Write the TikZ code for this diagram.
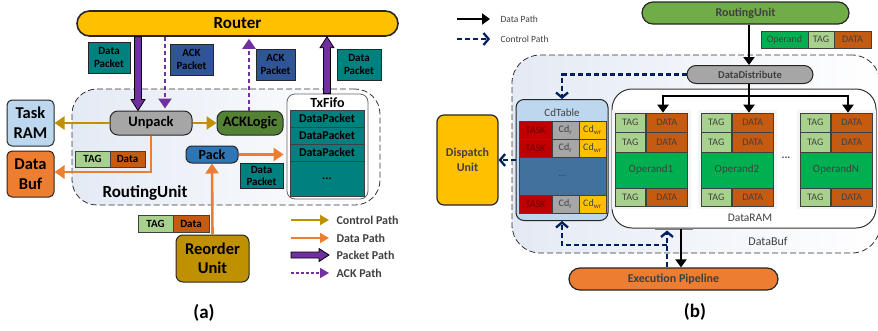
\documentclass[tikz,border=0pt]{standalone}
\usepackage{fontspec}
\setmainfont{Carlito}
\usetikzlibrary{arrows.meta,calc}
\definecolor{cyel}{HTML}{FFC000}
\definecolor{cteal}{HTML}{00807E}
\definecolor{cackb}{HTML}{2F5597}
\definecolor{cpur}{HTML}{7030A0}
\definecolor{cgold}{HTML}{BF9000}
\definecolor{corg}{HTML}{ED7D31}
\definecolor{clblue}{HTML}{BDD7EE}
\definecolor{cgray}{HTML}{A6A6A6}
\definecolor{cgreen}{HTML}{548235}
\definecolor{cpack}{HTML}{2E75B6}
\definecolor{ctag}{HTML}{A9D18E}
\definecolor{cdat}{HTML}{C55A11}
\definecolor{copd}{HTML}{00B050}
\definecolor{crub}{HTML}{70AD47}
\definecolor{cnavy}{HTML}{002060}
\definecolor{cdots}{HTML}{41719C}
\definecolor{ctask}{HTML}{C00000}
\definecolor{ctxt}{HTML}{404040}
\definecolor{cshade}{HTML}{E4EAF4}
\newcommand\fsz[2]{\fontsize{#1}{#2}\selectfont}
\newcommand\fatarrowv[2]{%
  \filldraw[draw=black, fill=cpur, line width=0.8pt, line join=miter]
  let \p1=(#1), \p2=(#2), \n1={sign(\y2-\y1)} in
  (\x1-3.5pt,\y1) -- (\x1-3.5pt,{\y2-\n1*11pt}) -- (\x1-7pt,{\y2-\n1*11pt}) -- (\x1,\y2)
  -- (\x1+7pt,{\y2-\n1*11pt}) -- (\x1+3.5pt,{\y2-\n1*11pt}) -- (\x1+3.5pt,\y1) -- cycle;}
\newcommand\fatarrowh[2]{%
  \filldraw[draw=black, fill=cpur, line width=0.8pt, line join=miter]
  let \p1=(#1), \p2=(#2) in
  (\x1,\y1-3pt) -- (\x2-10pt,\y1-3pt) -- (\x2-10pt,\y1-6.5pt) -- (\x2,\y1)
  -- (\x2-10pt,\y1+6.5pt) -- (\x2-10pt,\y1+3pt) -- (\x1,\y1+3pt) -- cycle;}
\begin{document}
\begin{tikzpicture}[x=1pt,y=-1pt,
  bx/.style={draw=black!85, line width=1pt, inner sep=0pt, align=center},
  cell/.style={draw=black!75, line width=0.6pt, inner sep=0pt, align=center},
  ctrlarr/.style={draw=cgold, line width=2.6pt, -{Triangle[length=10pt,width=13pt]}},
  dataarr/.style={draw=corg, line width=2.6pt, -{Triangle[length=10pt,width=13pt]}},
  ackarr/.style={draw=cpur, line width=2.6pt, dash pattern=on 4pt off 3pt, -{Triangle[length=10pt,width=13pt]}},
  blkarr/.style={draw=black, line width=2pt, -{Triangle[length=8pt,width=11pt]}},
  navyarr/.style={draw=cnavy, line width=2.3pt, dash pattern=on 5pt off 3pt, -{Straight Barb[length=5pt,width=12pt]}},
  dashbox/.style={draw=black!80, line width=0.8pt, dash pattern=on 6pt off 3pt, left color=cshade, right color=white},
  pkt/.style={bx, line width=0.8pt, font=\bfseries\fsz{11}{13.5}},
  lega/.style={anchor=west, text=ctxt, font=\bfseries\fsz{12}{14}},
  legb/.style={anchor=west, text=ctxt, font=\fsz{9.5}{11}},
  btxt/.style={text=ctxt, font=\fsz{10}{12}}
]
\clip (0,0) rectangle (878,330);
% ================= (a) =================
\node[dashbox, rounded corners=25pt, minimum width=308pt, minimum height=116pt] (ru) at (226,147) {};
\node[font=\bfseries\fsz{17}{20}] (rul) at (145,193) {RoutingUnit};

\node[bx, fill=cyel, line width=1.6pt, rounded corners=12.5pt, minimum width=321pt, minimum height=25pt, font=\bfseries\fsz{17}{20}] (router) at (237.5,23.5) {Router};

\node[pkt, fill=cteal, minimum width=42pt, minimum height=31pt] (dp1) at (109,57.5) {Data\\Packet};
\node[pkt, fill=cackb, minimum width=43pt, minimum height=31pt] (ack1) at (191.5,59.5) {ACK\\Packet};
\node[pkt, fill=cackb, minimum width=39pt, minimum height=31pt] (ack2) at (275.5,64.5) {ACK\\Packet};
\node[pkt, fill=cteal, minimum width=44pt, minimum height=31pt] (dp2) at (359,64.5) {Data\\Packet};

\node[bx, rounded corners=5pt, fill=clblue, minimum width=47pt, minimum height=46pt, font=\bfseries\fsz{16.5}{20}] (task) at (30.5,123) {Task\\RAM};
\node[bx, rounded corners=5pt, fill=corg, minimum width=47pt, minimum height=46pt, font=\bfseries\fsz{16.5}{20}] (dbuf) at (30.5,174) {Data\\Buf};

\node[bx, rounded corners=8pt, fill=cgray, minimum width=82pt, minimum height=24pt, font=\bfseries\fsz{14.5}{17}] (unpack) at (151,123) {Unpack};
\node[bx, rounded corners=8pt, fill=cgreen, minimum width=66pt, minimum height=24pt, font=\bfseries\fsz{14.5}{17}] (ackl) at (250,123) {ACKLogic};
\node[bx, rounded corners=6pt, fill=cpack, minimum width=52pt, minimum height=17pt, font=\bfseries\fsz{14}{16}] (pack) at (212,154.5) {Pack};

\node[cell, fill=ctag, minimum width=35pt, minimum height=16pt, font=\bfseries\fsz{11}{13}] (tag1) at (92.5,159) {TAG};
\node[cell, fill=cdat, minimum width=35pt, minimum height=16pt, font=\bfseries\fsz{11}{13}] (dat1) at (127.5,159) {Data};

\node[pkt, fill=cteal, minimum width=43pt, minimum height=25pt, font=\bfseries\fsz{11}{12.5}] (dp3) at (261.5,176) {Data\\Packet};

\node[draw=black!60, line width=0.8pt, fill=white, rounded corners=8pt, minimum width=81pt, minimum height=105pt] (fifo) at (327.5,146.5) {};
\node[font=\bfseries\fsz{14}{16}] (fifol) at (327.5,103) {TxFifo};
\node[cell, fill=cteal, line width=1pt, minimum width=74pt, minimum height=17pt, font=\bfseries\fsz{12}{14}] (f1) at (327,118.5) {DataPacket};
\node[cell, fill=cteal, line width=1pt, minimum width=74pt, minimum height=17pt, font=\bfseries\fsz{12}{14}] (f2) at (327,135.5) {DataPacket};
\node[cell, fill=cteal, line width=1pt, minimum width=74pt, minimum height=17pt, font=\bfseries\fsz{12}{14}] (f3) at (327,152.5) {DataPacket};
\node[cell, fill=cteal, line width=1pt, minimum width=74pt, minimum height=35pt, font=\bfseries\fsz{12}{14}] (f4) at (327,178.5) {...};

\node[bx, rounded corners=7pt, fill=cgold, minimum width=73pt, minimum height=47pt, font=\bfseries\fsz{16.5}{19.5}] (reord) at (212.5,258.5) {Reorder\\Unit};
\node[cell, fill=ctag, minimum width=35pt, minimum height=17pt, font=\bfseries\fsz{11}{13}] (tag2) at (155.5,223.5) {TAG};
\node[cell, fill=cdat, minimum width=36pt, minimum height=17pt, font=\bfseries\fsz{11}{13}] (dat2) at (191,223.5) {Data};

% connectors (a)
\coordinate (xa1) at (138,0);
\coordinate (xa2) at (165,0);
\coordinate (xa3) at (249,0);
\coordinate (xa4) at (327,0);
\fatarrowv{router.south -| xa1}{unpack.north -| xa1}
\draw[ackarr] (router.south -| xa2) -- ($(unpack.north -| xa2)+(0,-2)$);
\draw[ackarr] (ackl.north -| xa3) -- ($(router.south -| xa3)+(0,2)$);
\fatarrowv{fifo.north -| xa4}{router.south -| xa4}
\draw[ctrlarr] (unpack.west) -- (task.east);
\draw[ctrlarr] (unpack.east) -- (ackl.west);
\draw[dataarr] (unpack.south) |- ($(dbuf.east)+(0,-2)$);
\draw[dataarr] (pack.east) -- ($(pack.east -| fifo.west)+(-3,0)$);
\draw[dataarr] (reord.north) -- (pack.south);

% legend (a)
\coordinate (la1s) at (291,220); \coordinate (la1e) at (329,220);
\coordinate (la2s) at (291,238); \coordinate (la2e) at (329,238);
\coordinate (la3s) at (291,255); \coordinate (la3e) at (329,255);
\coordinate (la4s) at (291,273); \coordinate (la4e) at (329,273);
\draw[draw=cgold, line width=1.8pt, -{Triangle[length=9pt,width=10pt]}] (la1s) -- (la1e);
\draw[draw=corg, line width=1.8pt, -{Triangle[length=9pt,width=10pt]}] (la2s) -- (la2e);
\fatarrowh{la3s}{la3e}
\draw[draw=cpur, line width=1.4pt, dash pattern=on 3pt off 2pt, -{Triangle[length=9pt,width=10pt]}] (la4s) -- (la4e);
\node[lega] at (333,220) {Control Path};
\node[lega] at (333,238) {Data Path};
\node[lega] at (333,255) {Packet Path};
\node[lega] at (333,273) {ACK Path};

\node[font=\bfseries\fsz{19}{22}] (capa) at (204,313) {(a)};

% ================= (b) =================
\coordinate (lb1s) at (457,19); \coordinate (lb1e) at (490,19);
\coordinate (lb2s) at (457,39); \coordinate (lb2e) at (490,39);
\draw[blkarr] (lb1s) -- (lb1e);
\draw[navyarr] (lb2s) -- (lb2e);
\node[legb] at (497,19) {Data Path};
\node[legb] at (497,39) {Control Path};

\node[dashbox, rounded corners=28pt, minimum width=368pt, minimum height=198pt] (dbufb) at (696,154) {};
\node[text=ctxt, font=\fsz{12}{14}] (dbufl) at (768,241) {DataBuf};

\node[bx, line width=1.2pt, fill=crub, rounded corners=11pt, minimum width=207pt, minimum height=22pt, font=\bfseries\fsz{12}{14}, text=ctxt] (rub) at (745.5,13) {RoutingUnit};
\node[cell, fill=copd, minimum width=47pt, minimum height=17pt, btxt] (opo) at (784.5,39.5) {Operand};
\node[cell, fill=ctag, minimum width=26pt, minimum height=17pt, btxt] (opt) at (821,39.5) {TAG};
\node[cell, fill=cdat, minimum width=37pt, minimum height=17pt, btxt] (opd) at (852.5,39.5) {DATA};

\node[bx, fill=cgray, rounded corners=9pt, minimum width=126pt, minimum height=18pt, font=\bfseries\fsz{10.5}{12}, text=ctxt] (ddist) at (750,74.5) {DataDistribute};

\node[bx, fill=clblue, rounded corners=8pt, minimum width=92pt, minimum height=121pt] (cdt) at (562,160) {};
\node[text=ctxt, font=\fsz{11}{13}] (cdtl) at (562,113) {CdTable};
\foreach \y/\r in {130/1,148/2,204/3}{
  \node[cell, fill=ctask, minimum width=33pt, minimum height=18pt, text=ctask!55!black, font=\fsz{10}{12}] (tk\r) at (535.5,\y) {TASK};
  \node[cell, fill=cgray, minimum width=27pt, minimum height=18pt, btxt] (cr\r) at (565.5,\y) {Cd\textsubscript{r}};
  \node[cell, fill=cyel, minimum width=27pt, minimum height=18pt, btxt] (cw\r) at (592.5,\y) {Cd\textsubscript{wr}};
}
\node[cell, fill=cdots, minimum width=87pt, minimum height=38pt, btxt] (cdots) at (562.5,176) {...};

\node[bx, line width=1.2pt, fill=cyel, rounded corners=7pt, minimum width=61pt, minimum height=90pt, font=\bfseries\fsz{12}{15}, text=ctxt] (disp) at (467.5,160) {Dispatch\\Unit};

\node[draw=black!80, line width=1pt, fill=white, rounded corners=20pt, minimum width=264pt, minimum height=139pt] (dram) at (744,158.5) {};
\node[text=ctxt, font=\fsz{11.5}{13}] (draml) at (750,218) {DataRAM};
\foreach \x/\lab/\i in {615/Operand1/1,701/Operand2/2,800/OperandN/3}{
  \fill[black!4] (\x-3,110) rectangle (\x+76,209);
  \node[cell, fill=ctag, minimum width=30.5pt, minimum height=19.5pt, btxt] (t\i a) at (\x+15.25,122.75) {TAG};
  \node[cell, fill=cdat, minimum width=41.5pt, minimum height=19.5pt, btxt] (d\i a) at (\x+51.75,122.75) {DATA};
  \node[cell, fill=ctag, minimum width=30.5pt, minimum height=19.5pt, btxt] (t\i b) at (\x+15.25,142.25) {TAG};
  \node[cell, fill=cdat, minimum width=41.5pt, minimum height=19.5pt, btxt] (d\i b) at (\x+51.75,142.25) {DATA};
  \node[cell, fill=copd, minimum width=72pt, minimum height=36pt, text=ctxt, font=\fsz{11}{13}] (o\i) at (\x+36,170) {\lab};
  \node[cell, fill=ctag, minimum width=30.5pt, minimum height=18pt, btxt] (t\i c) at (\x+15.25,197) {TAG};
  \node[cell, fill=cdat, minimum width=41.5pt, minimum height=18pt, btxt] (d\i c) at (\x+51.75,197) {DATA};
}
\node[font=\bfseries\fsz{11}{13}, text=ctxt] (odots) at (786,158) {...};

\node[bx, line width=1.2pt, fill=corg, rounded corners=11pt, minimum width=209pt, minimum height=22pt, font=\bfseries\fsz{12}{14}, text=ctxt] (exec) at (673.5,279) {Execution Pipeline};

\node[font=\bfseries\fsz{19}{22}] (capb) at (695,312) {(b)};

% connectors (b)
\coordinate (xb) at (749,0);
\coordinate (brL) at (663,96);
\coordinate (brM) at (749,96);
\coordinate (brR) at (848,96);
\draw[blkarr] (rub.south -| xb) -- (ddist.north -| xb);
\draw[blkarr] (ddist.south -| xb) -- (d2a.north -| xb);
\draw[blkarr] (brM) -| (d1a.north -| brL);
\draw[blkarr] (brM) -| (d3a.north -| brR);
\draw[navyarr] (ddist.west) -| (cdt.north);
\draw[navyarr] (cdt.west) -- (disp.east);
\draw[gray, line width=2pt] ($(dram.south)+(-89,0)$) -- ($(dram.south)+(-51,0)$);
\coordinate (xd) at (681,0);
\coordinate (xc) at (667,0);
\coordinate (cj) at (667,245);
\draw[blkarr] (dram.south -| xd) -- (exec.north -| xd);
\draw[navyarr] (exec.north -| xc) -- ($(dram.south -| xc)+(0,2)$);
\draw[navyarr] (cj) -| (cdt.south);
\end{tikzpicture}
\end{document}
